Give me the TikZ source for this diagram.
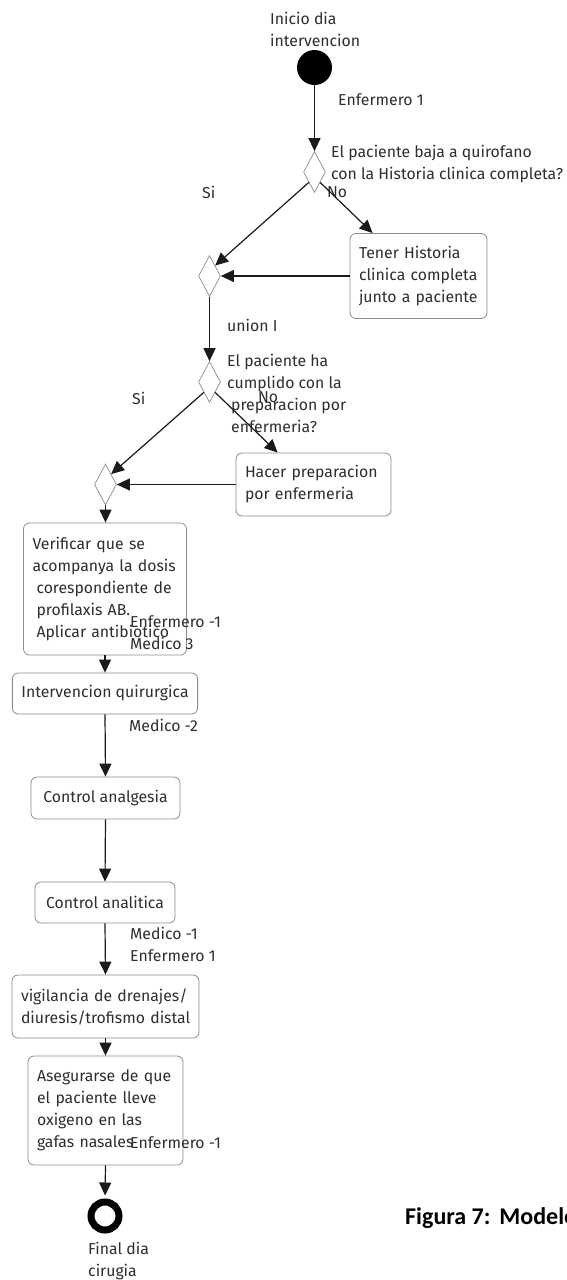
\documentclass[tikz,border=0pt]{standalone}
\usepackage{fontspec}
\setmainfont{Fira Sans}
\newfontfamily\capfont{Carlito}
\usetikzlibrary{arrows.meta,shapes.geometric}
\definecolor{ink}{HTML}{2E2E2E}
\definecolor{frame}{HTML}{8C8C8C}
\definecolor{wire}{HTML}{1A1A1A}

\begin{document}
\begin{tikzpicture}[x=1pt,y=-1pt,
  every node/.style={font=\fontsize{15.8}{22}\selectfont, text=ink},
  act/.style={draw=frame, line width=0.8pt, rounded corners=6pt, inner xsep=9pt,
    inner ysep=0pt, align=left},
  gate/.style={diamond, draw=frame, line width=0.7pt, minimum width=22pt,
    minimum height=41pt, inner sep=0pt},
  flow/.style={draw=wire, line width=1.2pt, -{Triangle[width=12pt,length=13pt]}},
  tag/.style={anchor=west, inner sep=0pt, align=left},
]
\clip (0,0) rectangle (566,1280);
\fill[white] (0,0) rectangle (566,1280);

% start and first decision
\node[circle, fill=black, minimum size=35pt, inner sep=0pt] (start) at (314.5,67.5) {};
\node[tag] (startlbl) at (270,29) {Inicio dia\\intervencion};
\node[tag] (r1) at (338,100) {Enfermero 1};
\node[gate] (d1) at (314.5,172) {};
\node[tag] (q1) at (331,164) {El paciente baja a quirofano\\con la Historia clinica completa?};
\node[tag] (si1) at (202,192) {Si};
\node[tag] (no1) at (327,192) {No};

\node[act, text width=119pt, minimum height=85pt] (tener) at (418.5,276)
  {Tener Historia\\clinica completa\\junto a paciente};
\node[gate] (d2) at (209.5,276) {};
\node[tag] (u1) at (227,325) {union I};

% second decision
\node[gate] (d3) at (209.5,382) {};
\node[tag] (q2) at (227,393.5) {El paciente ha\\cumplido con la\\\hspace*{4pt}preparacion por\\\hspace*{4pt}enfermeria?};
\node[tag] (si2) at (132,398) {Si};
\node[tag] (no2) at (258,397) {No};
\node[act, text width=137pt, minimum height=63pt] (hacer) at (313.5,484.5)
  {Hacer preparacion\\por enfermeria};
\node[gate] (d4) at (105.5,484.5) {};

% main sequence
\node[act, text width=145pt, minimum height=132pt] (verif) at (105,589)
  {Verificar que se\\acompanya la dosis\\\hspace*{4pt}corespondiente de\\\hspace*{4pt}profilaxis AB.\\\hspace*{4pt}\mbox{Aplicar antibiotico}};
\node[tag] (r2) at (130,632.5) {Enfermero -1\\Medico 3};
\node[act, minimum width=184pt, minimum height=41pt, align=center] (interv) at (105,693.5)
  {Intervencion quirurgica};
\node[tag] (r3) at (129,725) {Medico -2};
\node[act, minimum width=149pt, minimum height=42pt, align=center] (analg) at (105.5,798)
  {Control analgesia};
\node[act, minimum width=140pt, minimum height=41pt, align=center] (analit) at (105,902.5)
  {Control analitica};
\node[tag] (r4) at (130,944) {Medico -1\\Enfermero 1};
\node[act, text width=169pt, minimum height=63pt] (vigil) at (105.5,1006.5)
  {\mbox{vigilancia de drenajes/}\\\mbox{diuresis/trofismo distal}};
\node[act, text width=137pt, minimum height=109pt] (asegur) at (105.5,1110.5)
  {Asegurarse de que\\el paciente lleve\\oxigeno en las\\gafas nasales};
\node[tag] (r5) at (130,1143) {Enfermero -1};

% end
\node[circle, draw=black, line width=7pt, minimum size=28pt, inner sep=0pt] (finish) at (105,1216) {};
\node[tag] (endlbl) at (88,1261) {Final dia\\cirugia};

\node[anchor=west, inner sep=0pt, text=black, font=\capfont\bfseries\fontsize{24}{28}\selectfont]
  (caption) at (405,1218) {Figura 7:\hspace{9pt}Modelo};

% connectors
\draw[flow] (start) -- (d1);
\draw[flow] (d1.south west) -- (d2.north east);
\draw[flow] (d1.south east) -- ([xshift=23pt]tener.north west);
\draw[flow] (tener.west) -- (d2.east);
\draw[flow] (d2.south) -- (d3.north);
\draw[flow] (d3.south west) -- (d4.north east);
\draw[flow] (d3.south east) -- ([xshift=42pt]hacer.north west);
\draw[flow] (hacer.west) -- (d4.east);
\draw[flow] (d4.south) -- (d4.south |- verif.north);
\draw[flow] (verif.south) -- (interv.north);
\draw[flow] (interv.south) -- (analg.north);
\draw[flow] (analg.south) -- (analit.north);
\draw[flow] (analit.south) -- (vigil.north);
\draw[flow] (vigil.south) -- (asegur.north);
\draw[flow, shorten >=3pt] (asegur.south) -- (finish.north);
\end{tikzpicture}
\end{document}
